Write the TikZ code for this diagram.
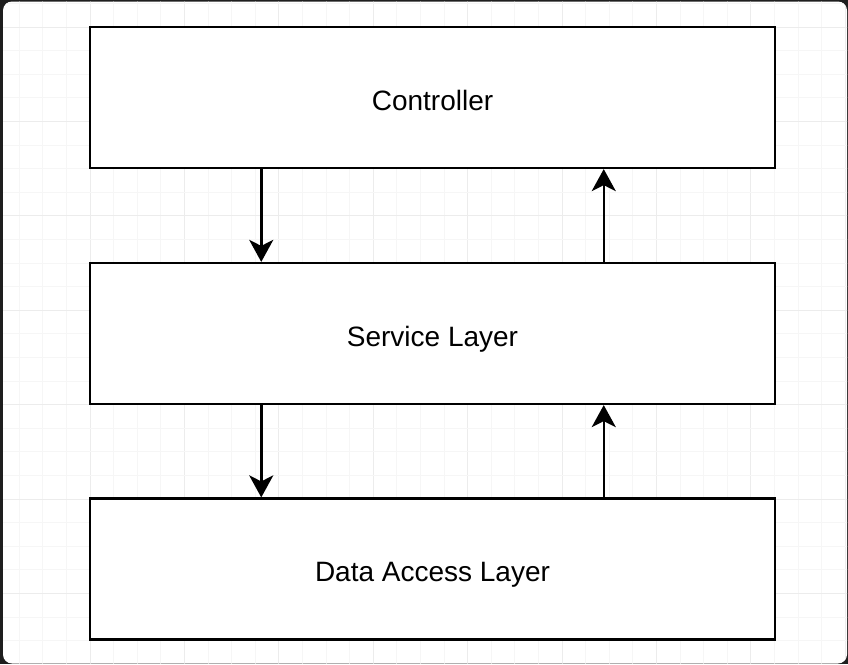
\documentclass[tikz,border=0pt]{standalone}
\usepackage{fontspec}
\setmainfont{Liberation Sans}
\usetikzlibrary{arrows.meta}
\definecolor{framedark}{HTML}{1E1E1E}
\definecolor{gridminor}{HTML}{F6F6F6}
\definecolor{gridmajor}{HTML}{ECECEC}
\tikzset{
  layerbox/.style={draw=black, fill=white, line width=2.2pt, minimum width=685pt, minimum height=141pt, inner sep=0pt, font=\fontsize{28}{34}\selectfont, text=black, text height=25pt, text depth=0pt},
  flow/.style={line width=2.5pt, -{Stealth[length=22pt, width=24pt, inset=6pt]}}
}
\begin{document}
\begin{tikzpicture}[x=1pt,y=-1pt]
\useasboundingbox (0,0) rectangle (848,664);
\fill[framedark] (0,0) rectangle (848,664);
\fill[white, rounded corners=9pt] (3,1.5) rectangle (847,663.5);
\begin{scope}
\clip[rounded corners=9pt] (3,1.5) rectangle (847,663.5);
\foreach \k in {-3,...,32} {
  \pgfmathtruncatemacro{\m}{mod(\k+40,4)}
  \ifnum\m=0 \def\gc{gridmajor}\else\def\gc{gridminor}\fi
  \draw[\gc, line width=1pt] ({90+23.6*\k},0) -- ({90+23.6*\k},664);
}
\foreach \k in {-1,...,27} {
  \pgfmathtruncatemacro{\m}{mod(\k+40,4)}
  \ifnum\m=0 \def\gc{gridmajor}\else\def\gc{gridminor}\fi
  \draw[\gc, line width=1pt] (0,{27+23.6*\k}) -- (848,{27+23.6*\k});
}
\end{scope}
\node[layerbox] (ctrl) at (432.5,97.5) {Controller};
\node[layerbox] (svc) at (432.5,333.5) {Service Layer};
\node[layerbox] (dal) at (432.5,569) {Data Access Layer};
\draw[flow] ([xshift=-171.25pt]ctrl.south) -- ([xshift=-171.25pt]svc.north);
\draw[flow] ([xshift=171.25pt]svc.north) -- ([xshift=171.25pt]ctrl.south);
\draw[flow] ([xshift=-171.25pt]svc.south) -- ([xshift=-171.25pt]dal.north);
\draw[flow] ([xshift=171.25pt]dal.north) -- ([xshift=171.25pt]svc.south);
\end{tikzpicture}
\end{document}
